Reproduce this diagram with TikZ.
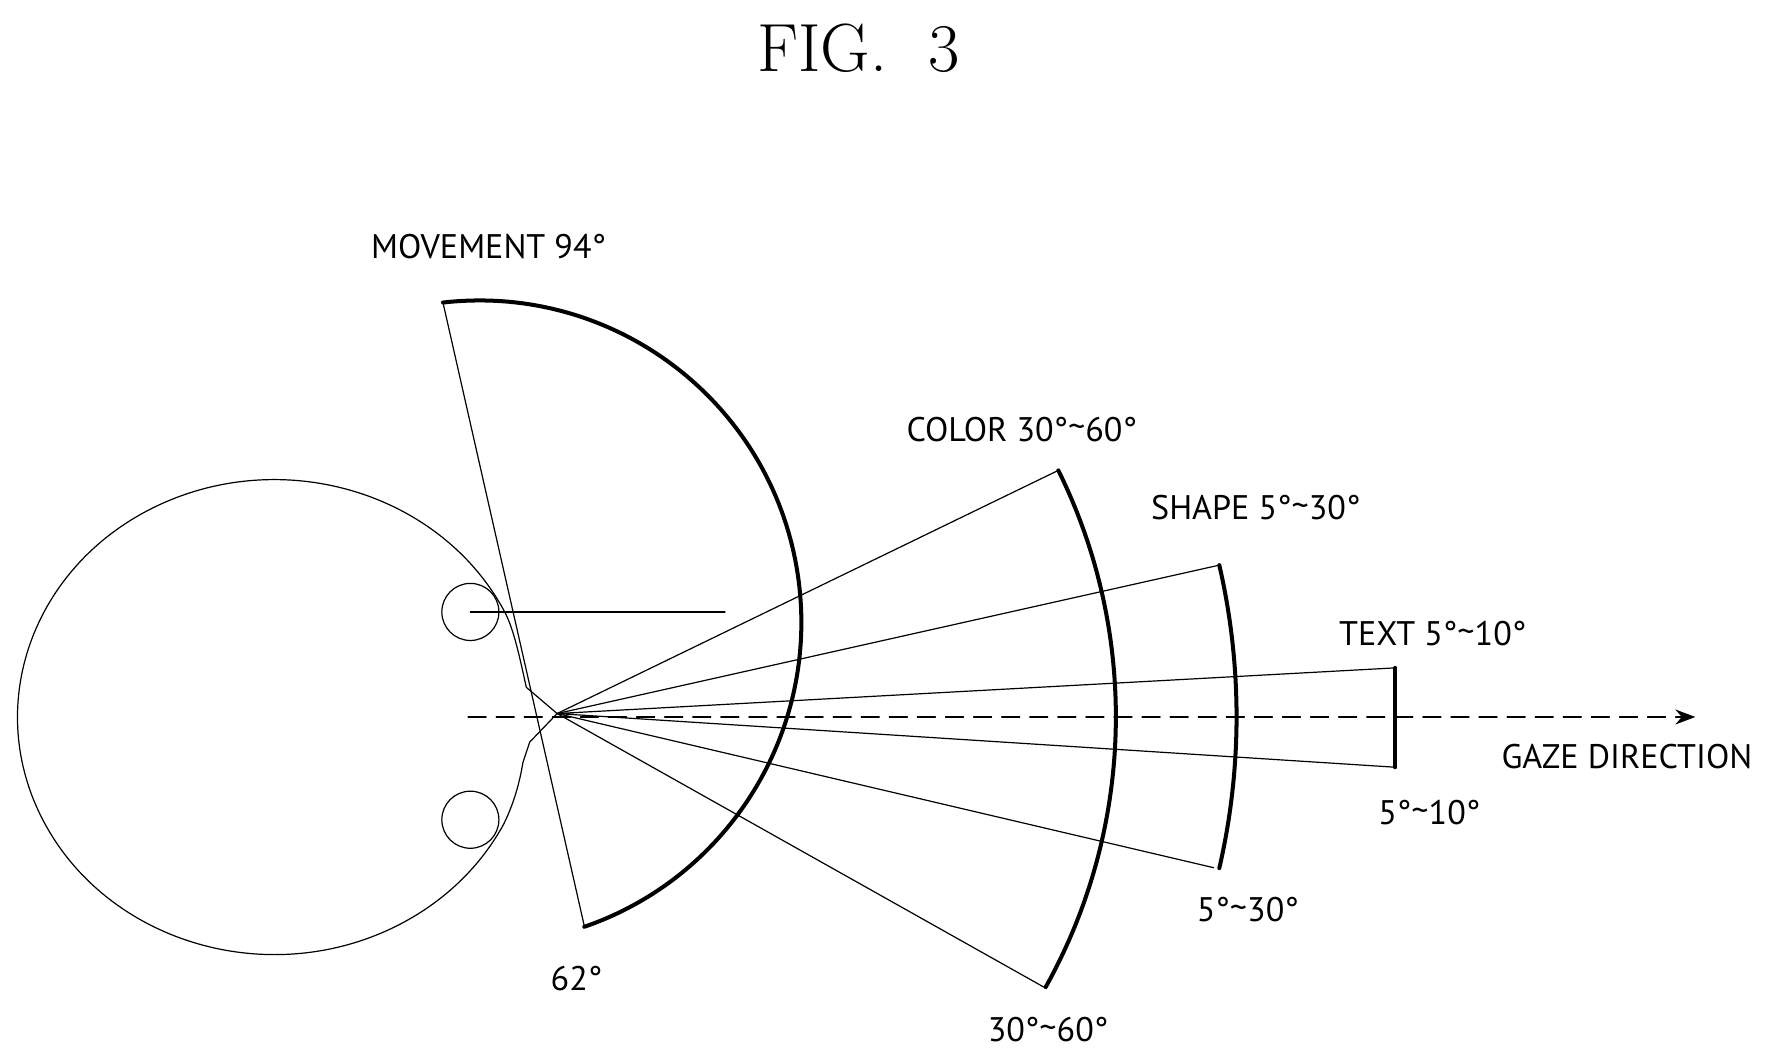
\documentclass[tikz,border=0pt]{standalone}
\usepackage{fontspec}
\setsansfont{PT Sans}
\usetikzlibrary{arrows.meta,calc,positioning}

\begin{document}
\begin{tikzpicture}[>=Stealth, line cap=round, line join=round, x=0.02cm, y=0.02cm]

% --- Styles ---
\tikzset{
  thinline/.style={line width=0.6pt},
  rimline/.style={line width=2pt},
  lbl/.style={font=\sffamily\fontsize{17}{20}\selectfont, inner sep=0pt}
}
\newcommand{\tl}{\raisebox{0.15ex}{\textasciitilde}}
\useasboundingbox (0,0) rectangle (1560,-927);

% --- Parameters ---
\coordinate (eye) at (488,-625);

% --- Title ---
\node[font=\fontsize{34}{40}\selectfont] (title) at (752,-42) {FIG.\ \ 3};

% --- Head and face profile ---
\draw[thinline] (441,-534) arc[start angle=26.9, end angle=333.1, x radius=225, y radius=208]
  .. controls (452,-700) and (456,-680) .. (458,-668)
  -- (464,-650) -- (eye) -- (461,-602)
  .. controls (455,-575) and (450,-550) .. cycle;
\draw[thinline] (412,-536) circle (25);
\draw[thinline] (412,-718) circle (25);
\draw[thinline] (412,-536) -- (635,-536);

% --- Movement sector ---
\draw[thinline] (388,-265) -- (512,-812);
\draw[rimline] (388,-265) arc[start angle=96.5, end angle=-71, radius=282];

% --- Color sector ---
\draw[thinline] (927,-412) -- (eye) -- (915,-865);
\draw[rimline] (927,-412) arc[start angle=26.3, end angle=-29.1, radius=487];

% --- Shape sector ---
\draw[thinline] (1068,-495) -- (eye) -- (1063,-760);
\draw[rimline] (1068,-495) arc[start angle=13, end angle=-13, radius=590];

% --- Text sector ---
\draw[thinline] (1222,-585) -- (eye) -- (1222,-672);
\draw[rimline] (1222,-585) -- (1222,-672);

% --- Gaze direction ---
\coordinate (gazeS) at (410,-628);
\coordinate (gazeE) at (1485,-628);
\draw[thinline, dashed, dash pattern=on 9pt off 5pt, -{Stealth[length=10pt]}] (gazeS) -- (gazeE);

% --- Labels ---
\node[lbl] (mov) at (428,-216) {MOVEMENT 94°};
\node[lbl] (col) at (895,-376) {COLOR 30°\tl60°};
\node[lbl] (shp) at (1100,-445) {SHAPE 5°\tl30°};
\node[lbl] (txt) at (1255,-555) {TEXT 5°\tl10°};
\node[lbl] (gaze) at (1425,-663) {GAZE DIRECTION};
\node[lbl] (txtb) at (1252,-712) {5°\tl10°};
\node[lbl] (shpb) at (1093,-797) {5°\tl30°};
\node[lbl] (colb) at (918,-902) {30°\tl60°};
\node[lbl] (movb) at (505,-857) {62°};

\end{tikzpicture}
\end{document}
